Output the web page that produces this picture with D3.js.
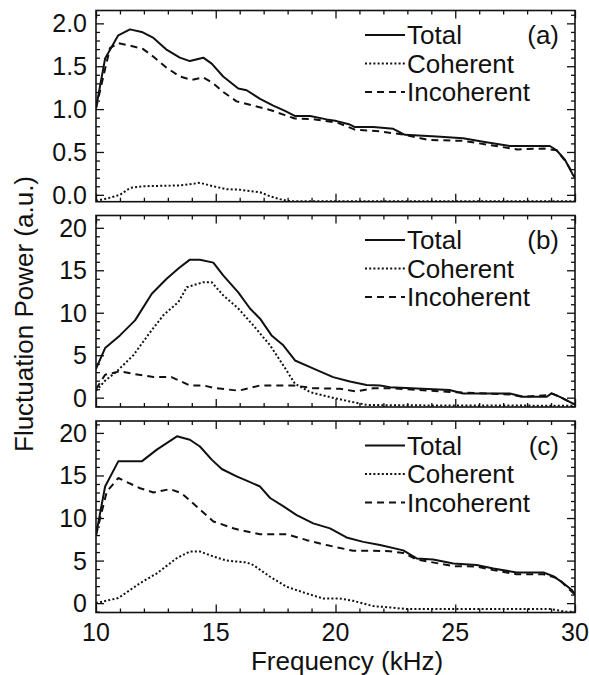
<!DOCTYPE html>
<html><head><meta charset="utf-8">
<script src="https://cdn.jsdelivr.net/npm/d3@7"></script>
<style>body{margin:0;background:#fff}svg{display:block}text{font-family:"Liberation Sans",Arial,Helvetica,sans-serif;fill:#111}</style>
</head><body>
<script>
// ---- data: [frequency kHz, power a.u.] ----
const aTotal = [[10.0,1.01],[10.38,1.59],[10.93,1.86],[11.42,1.93],[11.91,1.90],[12.4,1.83],[12.96,1.69],[13.5,1.60],[13.92,1.56],[14.48,1.60],[14.83,1.53],[15.31,1.38],[15.94,1.24],[16.29,1.22],[16.85,1.12],[17.4,1.04],[17.89,0.98],[18.3,0.92],[18.94,0.92],[19.63,0.88],[20.05,0.86],[20.6,0.82],[20.81,0.79],[21.58,0.79],[22.41,0.77],[22.9,0.70],[24.22,0.68],[25.33,0.66],[26.17,0.62],[27.28,0.57],[28.95,0.57],[29.23,0.52],[29.58,0.41],[29.92,0.23],[30,0.2]];
const aCoherent = [[10.0,-0.07],[10.5,-0.04],[11.0,0.0],[11.42,0.08],[11.97,0.10],[13.5,0.11],[14.34,0.14],[14.9,0.10],[15.45,0.066],[16.0,0.06],[16.85,0.03],[17.3,-0.02],[17.68,-0.05],[18.1,-0.075],[30,-0.075]];
const aIncoherent = [[10.0,1.01],[10.58,1.71],[10.93,1.77],[11.42,1.74],[11.97,1.70],[12.4,1.61],[12.96,1.48],[13.5,1.38],[14.0,1.34],[14.48,1.37],[14.9,1.30],[15.31,1.20],[15.87,1.09],[16.57,1.04],[17.27,0.99],[17.89,0.93],[18.3,0.89],[19.15,0.88],[20.1,0.84],[20.81,0.76],[21.86,0.74],[22.9,0.70],[23.9,0.64],[25.33,0.63],[26.45,0.58],[27.6,0.53],[28.7,0.54],[29.23,0.52],[29.58,0.40],[29.92,0.25],[30,0.2]];

const bTotal = [[10.0,3.4],[10.38,5.84],[11.0,7.33],[11.63,9.1],[12.33,12.24],[12.95,14.0],[13.44,15.2],[13.92,16.25],[14.34,16.25],[14.9,15.9],[15.31,14.4],[15.94,12.4],[16.43,10.5],[16.85,9.3],[17.33,7.33],[17.82,6.16],[18.31,4.38],[18.94,3.6],[19.9,2.42],[20.6,1.91],[21.3,1.5],[21.86,1.43],[22.27,1.24],[24.76,0.9],[25.33,0.5],[27.28,0.5],[27.83,0.1],[28.82,0.1],[29.02,0.5],[29.37,0.1],[29.92,-0.7],[30,-0.8]];
const bCoherent = [[10.0,0.8],[10.38,2.0],[10.87,3.1],[11.56,5.0],[12.26,7.7],[12.81,9.7],[13.44,11.26],[13.79,13.0],[14.48,13.6],[14.83,13.6],[15.31,12.05],[15.94,10.5],[16.57,8.5],[17.27,6.16],[17.82,3.8],[18.31,1.63],[18.94,0.65],[19.77,0.06],[20.6,-0.45],[21.3,-0.85],[22.27,-0.9],[30,-0.95]];
const bIncoherent = [[10.0,1.0],[10.38,2.7],[11.0,3.1],[11.56,2.8],[12.4,2.42],[13.15,2.42],[13.92,1.44],[14.48,1.44],[14.97,1.12],[15.87,0.85],[16.0,0.85],[16.85,1.44],[18.24,1.44],[19.07,1.12],[20.18,1.04],[20.88,0.73],[21.58,1.12],[22.27,1.12],[24.76,0.68],[27.28,0.38],[27.83,0.1],[28.82,0.3],[29.02,0.5],[29.37,0.1],[29.92,-0.7],[30,-0.8]];

const cTotal = [[10.0,8.0],[10.38,13.7],[10.93,16.66],[11.91,16.66],[12.54,18.04],[13.38,19.6],[13.92,19.2],[14.34,18.4],[14.83,16.86],[15.25,15.76],[15.87,14.9],[16.29,14.4],[16.85,13.7],[17.27,12.35],[17.83,11.36],[18.38,10.35],[19.07,9.37],[19.77,8.78],[20.46,7.72],[21.16,7.2],[21.86,6.82],[22.83,6.2],[23.39,5.25],[24.08,5.13],[24.92,4.66],[25.89,4.47],[26.59,4.07],[27.56,3.6],[28.68,3.6],[29.09,3.17],[29.44,2.5],[29.87,1.55],[30,1.0]];
const cCoherent = [[10.0,0.0],[10.93,0.6],[11.84,2.35],[12.54,3.5],[13.38,5.3],[13.92,6.07],[14.34,6.07],[14.9,5.48],[15.45,5.0],[16.29,4.78],[16.57,4.47],[17.27,3.1],[17.96,1.92],[18.8,1.13],[19.49,0.54],[20.18,0.54],[20.74,0.27],[21.58,-0.35],[22.27,-0.5],[22.97,-0.7],[29.0,-0.7],[29.6,-1.0],[30,-1.0]];
const cIncoherent = [[10.0,8.0],[10.45,13.1],[10.93,14.7],[11.84,13.5],[12.4,13.0],[13.09,13.4],[13.58,12.9],[14.34,11.0],[14.9,9.6],[15.73,8.8],[16.01,8.59],[16.85,8.1],[17.96,8.1],[18.8,7.4],[19.63,6.82],[20.74,6.15],[21.58,6.15],[22.27,6.1],[22.83,5.9],[23.39,5.13],[24.92,4.35],[25.89,4.3],[26.59,3.88],[27.56,3.4],[28.68,3.4],[29.3,2.9],[29.58,2.1],[30,1.0]];

const xTicks = [10, 15, 20, 25, 30];
const aYTicks = [0.0, 0.5, 1.0, 1.5, 2.0];
const bcYTicks = [0, 5, 10, 15, 20];
const panelLabels = ["(a)", "(b)", "(c)"];
const seriesNames = ["Total", "Coherent", "Incoherent"];

// ---- layout ----
const W = 589, H = 675;
const left = 96, right = 575;
const panels = [
  {top: 10.5, bottom: 201.7, domain: [-0.08, 2.15], ticks: aYTicks, fmt: d3.format(".1f"), minor: 0.1, data: [aTotal, aCoherent, aIncoherent], label: panelLabels[0]},
  {top: 215.5, bottom: 407, domain: [-1.1, 21.45], ticks: bcYTicks, fmt: d3.format("d"), minor: 1, data: [bTotal, bCoherent, bIncoherent], label: panelLabels[1]},
  {top: 421, bottom: 612.5, domain: [-1.1, 21.4], ticks: bcYTicks, fmt: d3.format("d"), minor: 1, data: [cTotal, cCoherent, cIncoherent], label: panelLabels[2]}
];
const styles = [
  {dash: null, w: 2},
  {dash: "2,2.2", w: 2},
  {dash: "7,5", w: 2}
];

const svg = d3.select("body").append("svg").attr("width", W).attr("height", H);
const x = d3.scaleLinear().domain([10, 30]).range([left, right]);
const xMinor = d3.range(10, 30.001, 1);

panels.forEach((p, i) => {
  const y = d3.scaleLinear().domain(p.domain).range([p.bottom, p.top]);
  const g = svg.append("g");
  const clipId = "clip" + i;
  svg.append("clipPath").attr("id", clipId).append("rect")
    .attr("x", left).attr("y", p.top).attr("width", right - left).attr("height", p.bottom - p.top);

  // ticks (inward) via d3 axes
  const yMinorVals = d3.range(Math.ceil(p.domain[0] / p.minor) * p.minor, p.domain[1] + 1e-9, p.minor)
    .map(v => +v.toFixed(3)).filter(v => !p.ticks.some(t => Math.abs(t - v) < 1e-6));
  const axStyle = sel => { sel.select(".domain").remove(); sel.selectAll("line").attr("stroke", "#111").attr("stroke-width", 1.3); };

  g.append("g").attr("transform", `translate(${left},0)`)
    .call(d3.axisRight(y).tickValues(p.ticks).tickSize(8).tickFormat("")).call(axStyle);
  g.append("g").attr("transform", `translate(${left},0)`)
    .call(d3.axisRight(y).tickValues(yMinorVals).tickSize(4).tickFormat("")).call(axStyle);
  g.append("g").attr("transform", `translate(${right},0)`)
    .call(d3.axisLeft(y).tickValues(p.ticks).tickSize(8).tickFormat("")).call(axStyle);
  g.append("g").attr("transform", `translate(${right},0)`)
    .call(d3.axisLeft(y).tickValues(yMinorVals).tickSize(4).tickFormat("")).call(axStyle);
  const xm = xMinor.filter(v => !xTicks.includes(v));
  g.append("g").attr("transform", `translate(0,${p.bottom})`)
    .call(d3.axisTop(x).tickValues(xTicks).tickSize(8).tickFormat("")).call(axStyle);
  g.append("g").attr("transform", `translate(0,${p.bottom})`)
    .call(d3.axisTop(x).tickValues(xm).tickSize(4).tickFormat("")).call(axStyle);
  g.append("g").attr("transform", `translate(0,${p.top})`)
    .call(d3.axisBottom(x).tickValues(xTicks).tickSize(8).tickFormat("")).call(axStyle);
  g.append("g").attr("transform", `translate(0,${p.top})`)
    .call(d3.axisBottom(x).tickValues(xm).tickSize(4).tickFormat("")).call(axStyle);

  // y tick labels
  g.selectAll("text.yl").data(p.ticks).enter().append("text")
    .attr("x", 87).attr("y", d => y(d) + 9)
    .attr("text-anchor", "end").attr("font-size", 25).text(p.fmt);

  // frame
  g.append("rect").attr("x", left).attr("y", p.top).attr("width", right - left).attr("height", p.bottom - p.top)
    .attr("fill", "none").attr("stroke", "#111").attr("stroke-width", 1.6);

  // lines
  const line = d3.line().x(d => x(d[0])).y(d => y(d[1]));
  p.data.forEach((d, k) => {
    g.append("path").attr("clip-path", `url(#${clipId})`).attr("d", line(d))
      .attr("fill", "none").attr("stroke", "#111").attr("stroke-width", styles[k].w)
      .attr("stroke-dasharray", styles[k].dash).attr("stroke-linejoin", "round");
  });

  // legend
  seriesNames.forEach((name, k) => {
    const cy = p.top + 24.5 + k * 28.5;
    g.append("line").attr("x1", 365).attr("x2", 405).attr("y1", cy).attr("y2", cy)
      .attr("stroke", "#111").attr("stroke-width", styles[k].w).attr("stroke-dasharray", styles[k].dash);
    g.append("text").attr("x", 407).attr("y", cy + 9).attr("font-size", 26).text(name);
  });
  g.append("text").attr("x", 559).attr("y", p.top + 24.5 + 9).attr("text-anchor", "end").attr("font-size", 26).text(p.label);
});

// x tick labels
svg.selectAll("text.xl").data(xTicks).enter().append("text")
  .attr("x", d => x(d)).attr("y", 641).attr("text-anchor", "middle").attr("font-size", 25).text(d => d);

svg.append("text").attr("x", 347).attr("y", 670).attr("text-anchor", "middle").attr("font-size", 26).text("Frequency (kHz)");
svg.append("text").attr("transform", "translate(33,314) rotate(-90)").attr("text-anchor", "middle").attr("font-size", 26).text("Fluctuation Power (a.u.)");
</script>
</body></html>
